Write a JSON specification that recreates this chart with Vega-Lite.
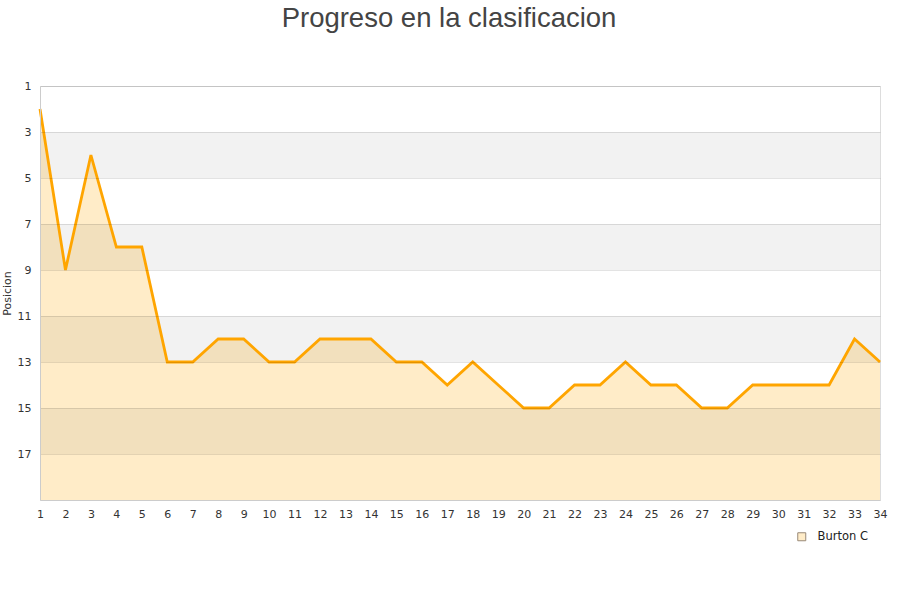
{
  "$schema": "https://vega.github.io/schema/vega-lite/v6.json",
  "autosize": "none",
  "width": 840,
  "height": 414,
  "padding": {"left": 40, "top": 86, "right": 20, "bottom": 100},
  "background": "white",
  "title": {
    "text": "Progreso en la clasificacion",
    "font": "Liberation Sans",
    "fontSize": 27.5,
    "fontWeight": "normal",
    "color": "#444444",
    "anchor": "middle",
    "dx": -11,
    "offset": 48
  },
  "config": {
    "view": {"stroke": "#dddddd"},
    "axis": {"labelFont": "DejaVu Sans", "titleFont": "DejaVu Sans", "labelColor": "#333333", "titleColor": "#333333"},
    "axisX": {"labelOverlap": false, "labelFlush": false}
  },
  "datasets": {
    "bands": [
      {"from": 3, "to": 5},
      {"from": 7, "to": 9},
      {"from": 11, "to": 13},
      {"from": 15, "to": 17}
    ],
    "pos": [
      {"jornada": 1, "posicion": 2, "equipo": "Burton C"},
      {"jornada": 2, "posicion": 9, "equipo": "Burton C"},
      {"jornada": 3, "posicion": 4, "equipo": "Burton C"},
      {"jornada": 4, "posicion": 8, "equipo": "Burton C"},
      {"jornada": 5, "posicion": 8, "equipo": "Burton C"},
      {"jornada": 6, "posicion": 13, "equipo": "Burton C"},
      {"jornada": 7, "posicion": 13, "equipo": "Burton C"},
      {"jornada": 8, "posicion": 12, "equipo": "Burton C"},
      {"jornada": 9, "posicion": 12, "equipo": "Burton C"},
      {"jornada": 10, "posicion": 13, "equipo": "Burton C"},
      {"jornada": 11, "posicion": 13, "equipo": "Burton C"},
      {"jornada": 12, "posicion": 12, "equipo": "Burton C"},
      {"jornada": 13, "posicion": 12, "equipo": "Burton C"},
      {"jornada": 14, "posicion": 12, "equipo": "Burton C"},
      {"jornada": 15, "posicion": 13, "equipo": "Burton C"},
      {"jornada": 16, "posicion": 13, "equipo": "Burton C"},
      {"jornada": 17, "posicion": 14, "equipo": "Burton C"},
      {"jornada": 18, "posicion": 13, "equipo": "Burton C"},
      {"jornada": 19, "posicion": 14, "equipo": "Burton C"},
      {"jornada": 20, "posicion": 15, "equipo": "Burton C"},
      {"jornada": 21, "posicion": 15, "equipo": "Burton C"},
      {"jornada": 22, "posicion": 14, "equipo": "Burton C"},
      {"jornada": 23, "posicion": 14, "equipo": "Burton C"},
      {"jornada": 24, "posicion": 13, "equipo": "Burton C"},
      {"jornada": 25, "posicion": 14, "equipo": "Burton C"},
      {"jornada": 26, "posicion": 14, "equipo": "Burton C"},
      {"jornada": 27, "posicion": 15, "equipo": "Burton C"},
      {"jornada": 28, "posicion": 15, "equipo": "Burton C"},
      {"jornada": 29, "posicion": 14, "equipo": "Burton C"},
      {"jornada": 30, "posicion": 14, "equipo": "Burton C"},
      {"jornada": 31, "posicion": 14, "equipo": "Burton C"},
      {"jornada": 32, "posicion": 14, "equipo": "Burton C"},
      {"jornada": 33, "posicion": 12, "equipo": "Burton C"},
      {"jornada": 34, "posicion": 13, "equipo": "Burton C"}
    ]
  },
  "layer": [
    {
      "data": {"name": "pos"},
      "mark": {"type": "area", "opacity": 1},
      "encoding": {
        "x": {
          "field": "jornada", "type": "quantitative",
          "scale": {"domain": [1, 34], "nice": false},
          "axis": {"title": null, "format": "d", "values": [1,2,3,4,5,6,7,8,9,10,11,12,13,14,15,16,17,18,19,20,21,22,23,24,25,26,27,28,29,30,31,32,33,34], "tickCount": 100, "grid": false, "ticks": false, "labelPadding": 8, "labelFontSize": 11, "domainColor": "#cccccc", "labelFlush": false, "labelOverlap": false}
        },
        "y": {
          "field": "posicion", "type": "quantitative",
          "scale": {"domain": [1, 19], "reverse": true, "nice": false},
          "axis": {"title": "Posicion", "format": "d", "values": [1,3,5,7,9,11,13,15,17], "tickCount": 100, "ticks": false, "labelPadding": 9, "labelFontSize": 11, "titleFontSize": 11, "titleFontWeight": "normal", "titleX": -30, "titleY": 207, "titleAlign": "center", "titleBaseline": "alphabetic", "gridColor": "#000000", "gridOpacity": 0.11, "domainColor": "#cccccc", "zindex": 1}
        },
        "y2": {"datum": 19},
        "color": {
          "field": "equipo", "type": "nominal",
          "scale": {"range": ["#ffecc8"]},
          "legend": {"title": null, "orient": "none", "legendX": 756, "legendY": 445, "symbolType": "square", "symbolSize": 64, "symbolOpacity": 1, "symbolStrokeColor": "#998877", "symbolStrokeWidth": 1, "labelOffset": 10, "labelFont": "DejaVu Sans", "labelFontSize": 11.5, "labelColor": "#222222"}
        }
      }
    },
    {
      "data": {"name": "bands"},
      "mark": {"type": "rect", "fill": "#000000", "opacity": 0.05},
      "encoding": {
        "y": {"field": "from", "type": "quantitative"},
        "y2": {"field": "to"}
      }
    },
    {
      "data": {"name": "pos"},
      "mark": {"type": "line", "color": "#ffa500", "strokeWidth": 2.8},
      "encoding": {
        "x": {"field": "jornada", "type": "quantitative"},
        "y": {"field": "posicion", "type": "quantitative"}
      }
    }
  ]
}
